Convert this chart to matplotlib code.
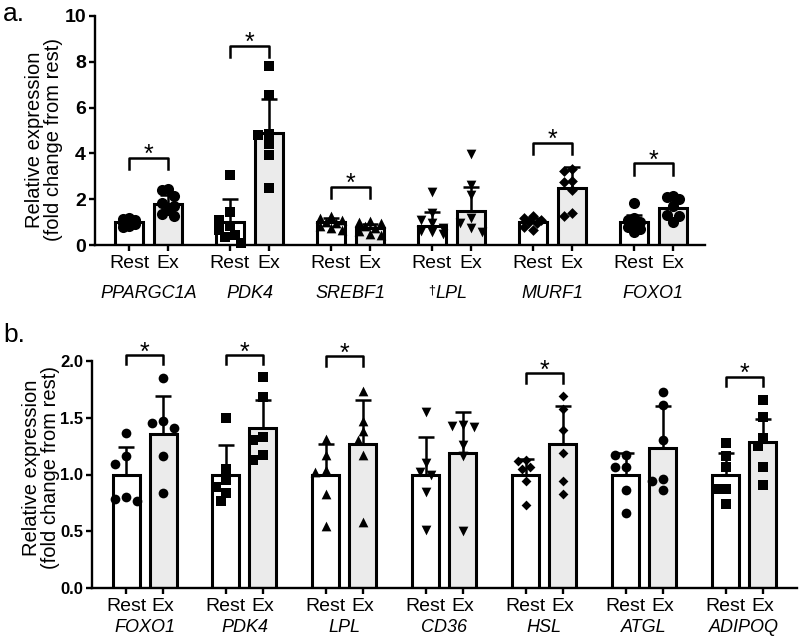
import numpy as np
import matplotlib.pyplot as plt
from matplotlib.transforms import blended_transform_factory

plt.rcParams['font.family'] = ['Liberation Sans', 'DejaVu Sans']

# ---- panel a data ----
genes_a = ['PPARGC1A', 'PDK4', 'SREBF1', 'LPL', 'MURF1', 'FOXO1']
dagger_a = [False, False, False, True, False, False]
markers_a = ['o', 's', '^', 'v', 'D', 'o']
rest_mean_a = [1.0, 1.0, 1.0, 0.82, 1.0, 1.0]
ex_mean_a = [1.79, 4.88, 0.73, 1.5, 2.47, 1.6]
rest_sd_a = [0.15, 1.0, 0.2, 0.6, 0.2, 0.3]
ex_sd_a = [0.4, 1.5, 0.2, 1.05, 0.95, 0.35]
sig_a = [3.8, 8.7, 2.55, None, 4.47, 3.57]
rest_pts_a = [
    [1.2, 1.15, 1.1, 1.0, 0.95, 0.9, 0.85, 0.8],
    [3.05, 1.45, 1.1, 0.85, 0.65, 0.35, 0.1, 0.45],
    [1.25, 1.2, 1.1, 1.0, 0.95, 0.85, 0.75, 0.65],
    [2.33, 1.4, 1.1, 0.95, 0.75, 0.6, 0.55, 0.5],
    [1.25, 1.2, 1.1, 1.0, 0.95, 0.8, 0.65],
    [1.82, 1.2, 1.1, 1.0, 0.9, 0.8, 0.7, 0.55],
]
ex_pts_a = [
    [2.45, 2.4, 2.15, 1.85, 1.7, 1.55, 1.35, 1.25],
    [7.8, 6.55, 4.85, 4.8, 4.4, 3.95, 2.5],
    [1.05, 1.0, 0.95, 0.85, 0.75, 0.6, 0.5, 0.45],
    [3.97, 2.62, 2.18, 1.2, 0.95, 0.75, 0.55],
    [3.3, 3.25, 2.8, 2.75, 2.4, 1.38, 1.25],
    [2.15, 2.1, 2.0, 1.7, 1.3, 1.25, 1.0],
]

# ---- panel b data ----
genes_b = ['FOXO1', 'PDK4', 'LPL', 'CD36', 'HSL', 'ATGL', 'ADIPOQ']
markers_b = ['o', 's', '^', 'v', 'D', 'o', 's']
rest_mean_b = [1.0, 1.0, 1.0, 1.0, 1.0, 1.0, 1.0]
ex_mean_b = [1.36, 1.41, 1.27, 1.19, 1.27, 1.23, 1.29]
rest_sd_b = [0.24, 0.26, 0.27, 0.33, 0.14, 0.19, 0.19]
ex_sd_b = [0.33, 0.25, 0.39, 0.36, 0.33, 0.37, 0.2]
sig_b = [2.05, 2.05, 2.04, None, 1.89, None, 1.86]
rest_pts_b = [
    [1.37, 1.16, 1.09, 0.80, 0.78, 0.77],
    [1.50, 1.05, 0.95, 0.89, 0.84, 0.77],
    [1.31, 1.17, 1.04, 1.02, 0.83, 0.55],
    [1.55, 1.10, 1.02, 1.00, 0.85, 0.51],
    [1.13, 1.12, 1.07, 1.05, 0.94, 0.73],
    [1.17, 1.17, 1.07, 1.07, 0.86, 0.66],
    [1.28, 1.16, 1.07, 0.87, 0.87, 0.74],
]
ex_pts_b = [
    [1.85, 1.47, 1.45, 1.41, 1.16, 0.84],
    [1.86, 1.68, 1.33, 1.30, 1.17, 1.13],
    [1.74, 1.47, 1.38, 1.30, 1.17, 0.58],
    [1.44, 1.43, 1.42, 1.26, 1.16, 0.50],
    [1.69, 1.58, 1.39, 1.19, 0.94, 0.83],
    [1.73, 1.61, 1.30, 0.96, 0.94, 0.86],
    [1.66, 1.51, 1.32, 1.25, 1.07, 0.91],
]


def swarm(vals, ax, diam, max_px):
    # simple beeswarm in pixel space so markers don't pile up
    bb = ax.get_window_extent()
    x0, x1 = ax.get_xlim()
    y0, y1 = ax.get_ylim()
    sx = bb.width / (x1 - x0)
    sy = bb.height / (y1 - y0)
    vals = np.asarray(vals)
    offs = np.zeros(len(vals))
    placed = []
    step = diam * 0.55
    for i in np.argsort(vals)[::-1]:
        y = vals[i] * sy
        best, best_d = 0.0, -1
        for k in [0, -1, 1, -2, 2, -3, 3, -4, 4]:
            x = k * step
            if abs(x) > max_px:
                continue
            d = min([np.hypot(x - px, y - py) for px, py in placed], default=1e9)
            if d >= diam:
                best = x
                break
            if d > best_d:
                best, best_d = x, d
        placed.append((best, y))
        offs[i] = best / sx
    return offs


def draw_panel(ax, genes, markers, rm, em, rsd, esd, sig, rpts, epts,
               gap, width, ylim, leg, msize, gene_y, tick_fs):
    rest_x = np.arange(len(genes)) * gap
    ex_x = rest_x + 1
    ax.set_ylim(*ylim)
    ax.bar(rest_x, rm, width=width, color='white', edgecolor='black', linewidth=2.2, zorder=2)
    ax.bar(ex_x, em, width=width, color='#ebebeb', edgecolor='black', linewidth=2.2, zorder=2)
    bb = ax.get_window_extent()
    max_px = width * bb.width / (ax.get_xlim()[1] - ax.get_xlim()[0]) * 0.42
    for i in range(len(genes)):
        for xc, pts in [(rest_x[i], rpts[i]), (ex_x[i], epts[i])]:
            ms = msize[markers[i]]
            off = swarm(pts, ax, ms * 1.39, max_px)
            ax.scatter(xc + off, pts, marker=markers[i], s=ms ** 2, color='black',
                       linewidths=0, zorder=3, clip_on=False)
    ax.errorbar(rest_x, rm, yerr=[np.zeros(len(rm)), rsd], fmt='none', ecolor='black',
                elinewidth=1.8, capsize=6, capthick=1.8, zorder=4)
    ax.errorbar(ex_x, em, yerr=[np.zeros(len(em)), esd], fmt='none', ecolor='black',
                elinewidth=1.8, capsize=6, capthick=1.8, zorder=4)
    for i, h in enumerate(sig):
        if h is None:
            continue
        ax.plot([rest_x[i], rest_x[i], ex_x[i], ex_x[i]], [h - leg, h, h, h - leg],
                color='black', lw=1.8, clip_on=False, zorder=5)
        ax.annotate('*', xy=((rest_x[i] + ex_x[i]) / 2, h), xytext=(0, -3),
                    textcoords='offset points', ha='center', va='baseline',
                    fontsize=18, annotation_clip=False)
    xt = np.ravel(np.column_stack([rest_x, ex_x]))
    ax.set_xticks(xt)
    ax.set_xticklabels(['Rest', 'Ex'] * len(genes), fontsize=14)
    trans = blended_transform_factory(ax.transData, ax.transAxes)
    labels = []
    for i, g in enumerate(genes):
        t = ax.text(rest_x[i] + 0.5, gene_y, g, transform=trans, ha='center', va='center',
                    style='italic', fontsize=13)
        labels.append(t)
    for sp in ['top', 'right']:
        ax.spines[sp].set_visible(False)
    for sp in ['left', 'bottom']:
        ax.spines[sp].set_linewidth(1.7)
    ax.tick_params(axis='both', direction='out', length=4.5, width=1.7)
    ax.tick_params(axis='x', pad=3)
    ax.tick_params(axis='y', pad=2)
    for lab in ax.get_yticklabels():
        lab.set_fontweight('bold')
        lab.set_fontsize(tick_fs)
    ax.set_ylabel('Relative expression\n(fold change from rest)', fontsize=14.5, linespacing=1.0)
    return labels


fig = plt.figure(figsize=(8, 6.42), dpi=100)

axa = fig.add_axes([95 / 800, (642 - 245) / 642, 610 / 800, 229 / 642])
axa.set_xlim(-0.87, 14.72)
axa.set_yticks([0, 2, 4, 6, 8, 10])
labs = draw_panel(axa, genes_a, markers_a, rest_mean_a, ex_mean_a, rest_sd_a, ex_sd_a,
                  sig_a, rest_pts_a, ex_pts_a, gap=2.58, width=0.71, ylim=(0, 10), leg=0.5,
                  msize={'o': 8, 's': 7, '^': 7, 'v': 7, 'D': 5.5}, gene_y=-0.21, tick_fs=14)
axa.yaxis.set_label_coords(-0.052, 0.46)
for i, flag in enumerate(dagger_a):
    if flag:
        axa.annotate('\u2020', xy=(0, 1), xycoords=labs[i], ha='right', va='top', fontsize=9)

axb = fig.add_axes([92 / 800, 54 / 642, 705 / 800, 227 / 642])
axb.set_xlim(-0.92, 18.13)
axb.set_yticks([0.0, 0.5, 1.0, 1.5, 2.0])
axb.set_yticklabels(['0.0', '0.5', '1.0', '1.5', '2.0'])
draw_panel(axb, genes_b, markers_b, rest_mean_b, ex_mean_b, rest_sd_b, ex_sd_b,
           sig_b, rest_pts_b, ex_pts_b, gap=2.7, width=0.73, ylim=(0, 2.0), leg=0.08,
           msize={'o': 7, 's': 6.5, '^': 7, 'v': 7, 'D': 5}, gene_y=-0.176, tick_fs=12)
axb.yaxis.set_label_coords(-0.046, 0.53)

fig.text(3 / 800, 1 - 21 / 642, 'a.', fontsize=19, va='baseline')
fig.text(3 / 800, 1 - 342 / 642, 'b.', fontsize=19, va='baseline')

fig.savefig('out.png', dpi=100)
